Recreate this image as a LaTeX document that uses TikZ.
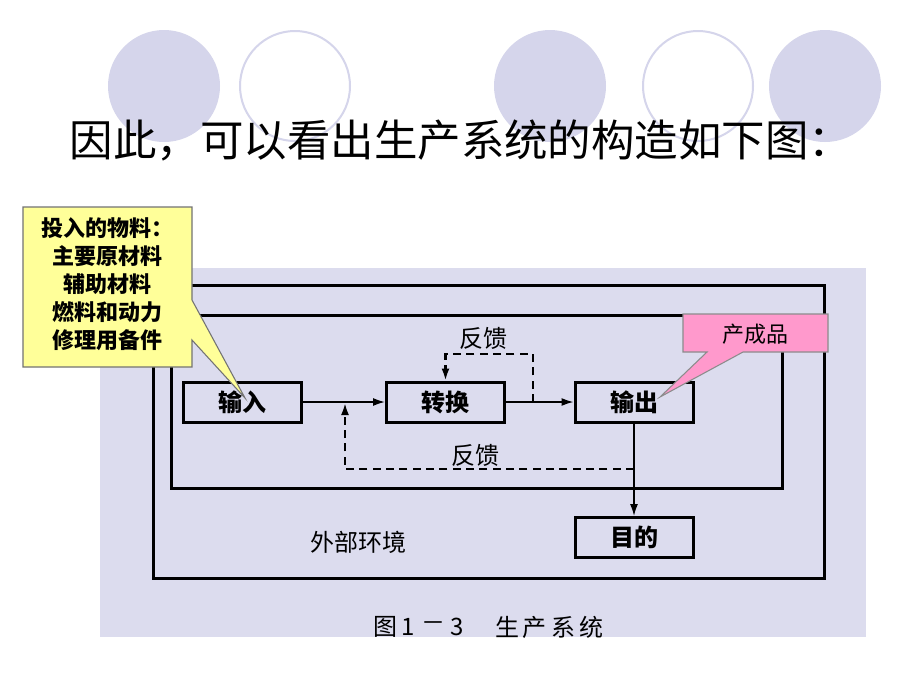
\documentclass[tikz,border=0pt]{standalone}
\usepackage{fontspec}
\setmainfont{Noto Sans CJK SC}
\usetikzlibrary{arrows.meta}
\definecolor{lav}{HTML}{DCDCEE}
\definecolor{circ}{HTML}{D5D5EB}
\definecolor{yel}{HTML}{FFFF99}
\definecolor{mypink}{HTML}{FF99CC}
\begin{document}
\begin{tikzpicture}[x=0.75pt,y=-0.75pt,
  box/.style={draw,line width=2.25pt,minimum width=88.5pt,minimum height=30pt,inner sep=0pt,font=\fontsize{18}{20}\selectfont\bfseries},
  conn/.style={line width=1.2pt,-{Latex[length=9pt,width=6pt]}},
  fbline/.style={conn,line width=1.6pt,dash pattern=on 6pt off 4pt},
  frame/.style={line width=2.25pt},
  lbl/.style={font=\fontsize{18}{20}\selectfont,inner sep=0pt},
  capt/.style={font=\fontsize{18}{20}\selectfont,inner sep=0pt},
  opencirc/.style={fill=white,draw=circ,line width=1.5pt}]
\fill[white] (0,0) rectangle (920,690);
\path[use as bounding box] (0,0) rectangle (920,690);
% decorative circles
\fill[circ] (164,86) ellipse [x radius=56, y radius=56];
\draw[opencirc] (295,86) ellipse [x radius=55, y radius=55];
\fill[circ] (550,86) ellipse [x radius=56, y radius=56];
\draw[opencirc] (698,86) ellipse [x radius=55, y radius=55];
\fill[circ] (825,86) ellipse [x radius=56, y radius=56];
% title
\node[font=\fontsize{32.6}{36}\selectfont,inner sep=0pt] (title) at (461,140) {因此，可以看出生产系统的构造如下图：};
% diagram background
\fill[lav] (100,268) rectangle (866,637);
% frames
\draw[frame] (153,285) rectangle (824,578);
\draw[frame] (171,315) rectangle (782,488);
% boxes
\node[box] (in) at (242.5,402) {输入};
\node[box] (tr) at (445.5,402) {转换};
\node[box] (out) at (634,402) {输出};
\node[box] (goal) at (634,537.5) {目的};
% connectors
\draw[conn] (in) -- (tr);
\draw[conn] (tr) -- (out);
\draw[conn] (out) -- (goal);
\coordinate (fbA) at (533,402);
\coordinate (fbB) at (533,354);
\draw[fbline] (fbA) -- (fbB) -| (tr.north);
\coordinate (fbC) at (634,469);
\coordinate (fbD) at (345,403);
\draw[fbline] (fbC) -| (fbD);
% labels
\node[lbl] (fbtop) at (483,338) {反馈};
\node[lbl] (fbbot) at (475,455) {反馈};
\node[lbl] (env) at (358,542) {外部环境};
\node[capt] (c1) at (385,627) {图};
\node[capt] (c2) at (408,627) {1};
\node[capt] (c3) at (433,627) {－};
\node[capt] (c4) at (457,627) {3};
\node[capt] (c5) at (549,627) {生\hspace{3pt}产\hspace{3pt}系\hspace{3pt}统};
% yellow callout
\draw[fill=yel,draw=black!55,line width=0.8pt] (23,207) -- (192,207) -- (192,300) -- (245,398) -- (192,340) -- (192,367) -- (23,367) -- cycle;
\node[font=\fontsize{16.5}{21}\selectfont\bfseries,align=center,inner sep=0pt] (inputs) at (107.5,284) {投入的物料：\\主要原材料\\辅助材料\\燃料和动力\\修理用备件};
% pink callout
\draw[fill=mypink,draw=black!45,line width=0.8pt] (683,314) -- (828,314) -- (828,352) -- (743,352) -- (660,397) -- (707,352) -- (683,352) -- cycle;
\node[font=\fontsize{16.5}{20}\selectfont,inner sep=0pt] (prod) at (755,334) {产成品};
\end{tikzpicture}
\end{document}
